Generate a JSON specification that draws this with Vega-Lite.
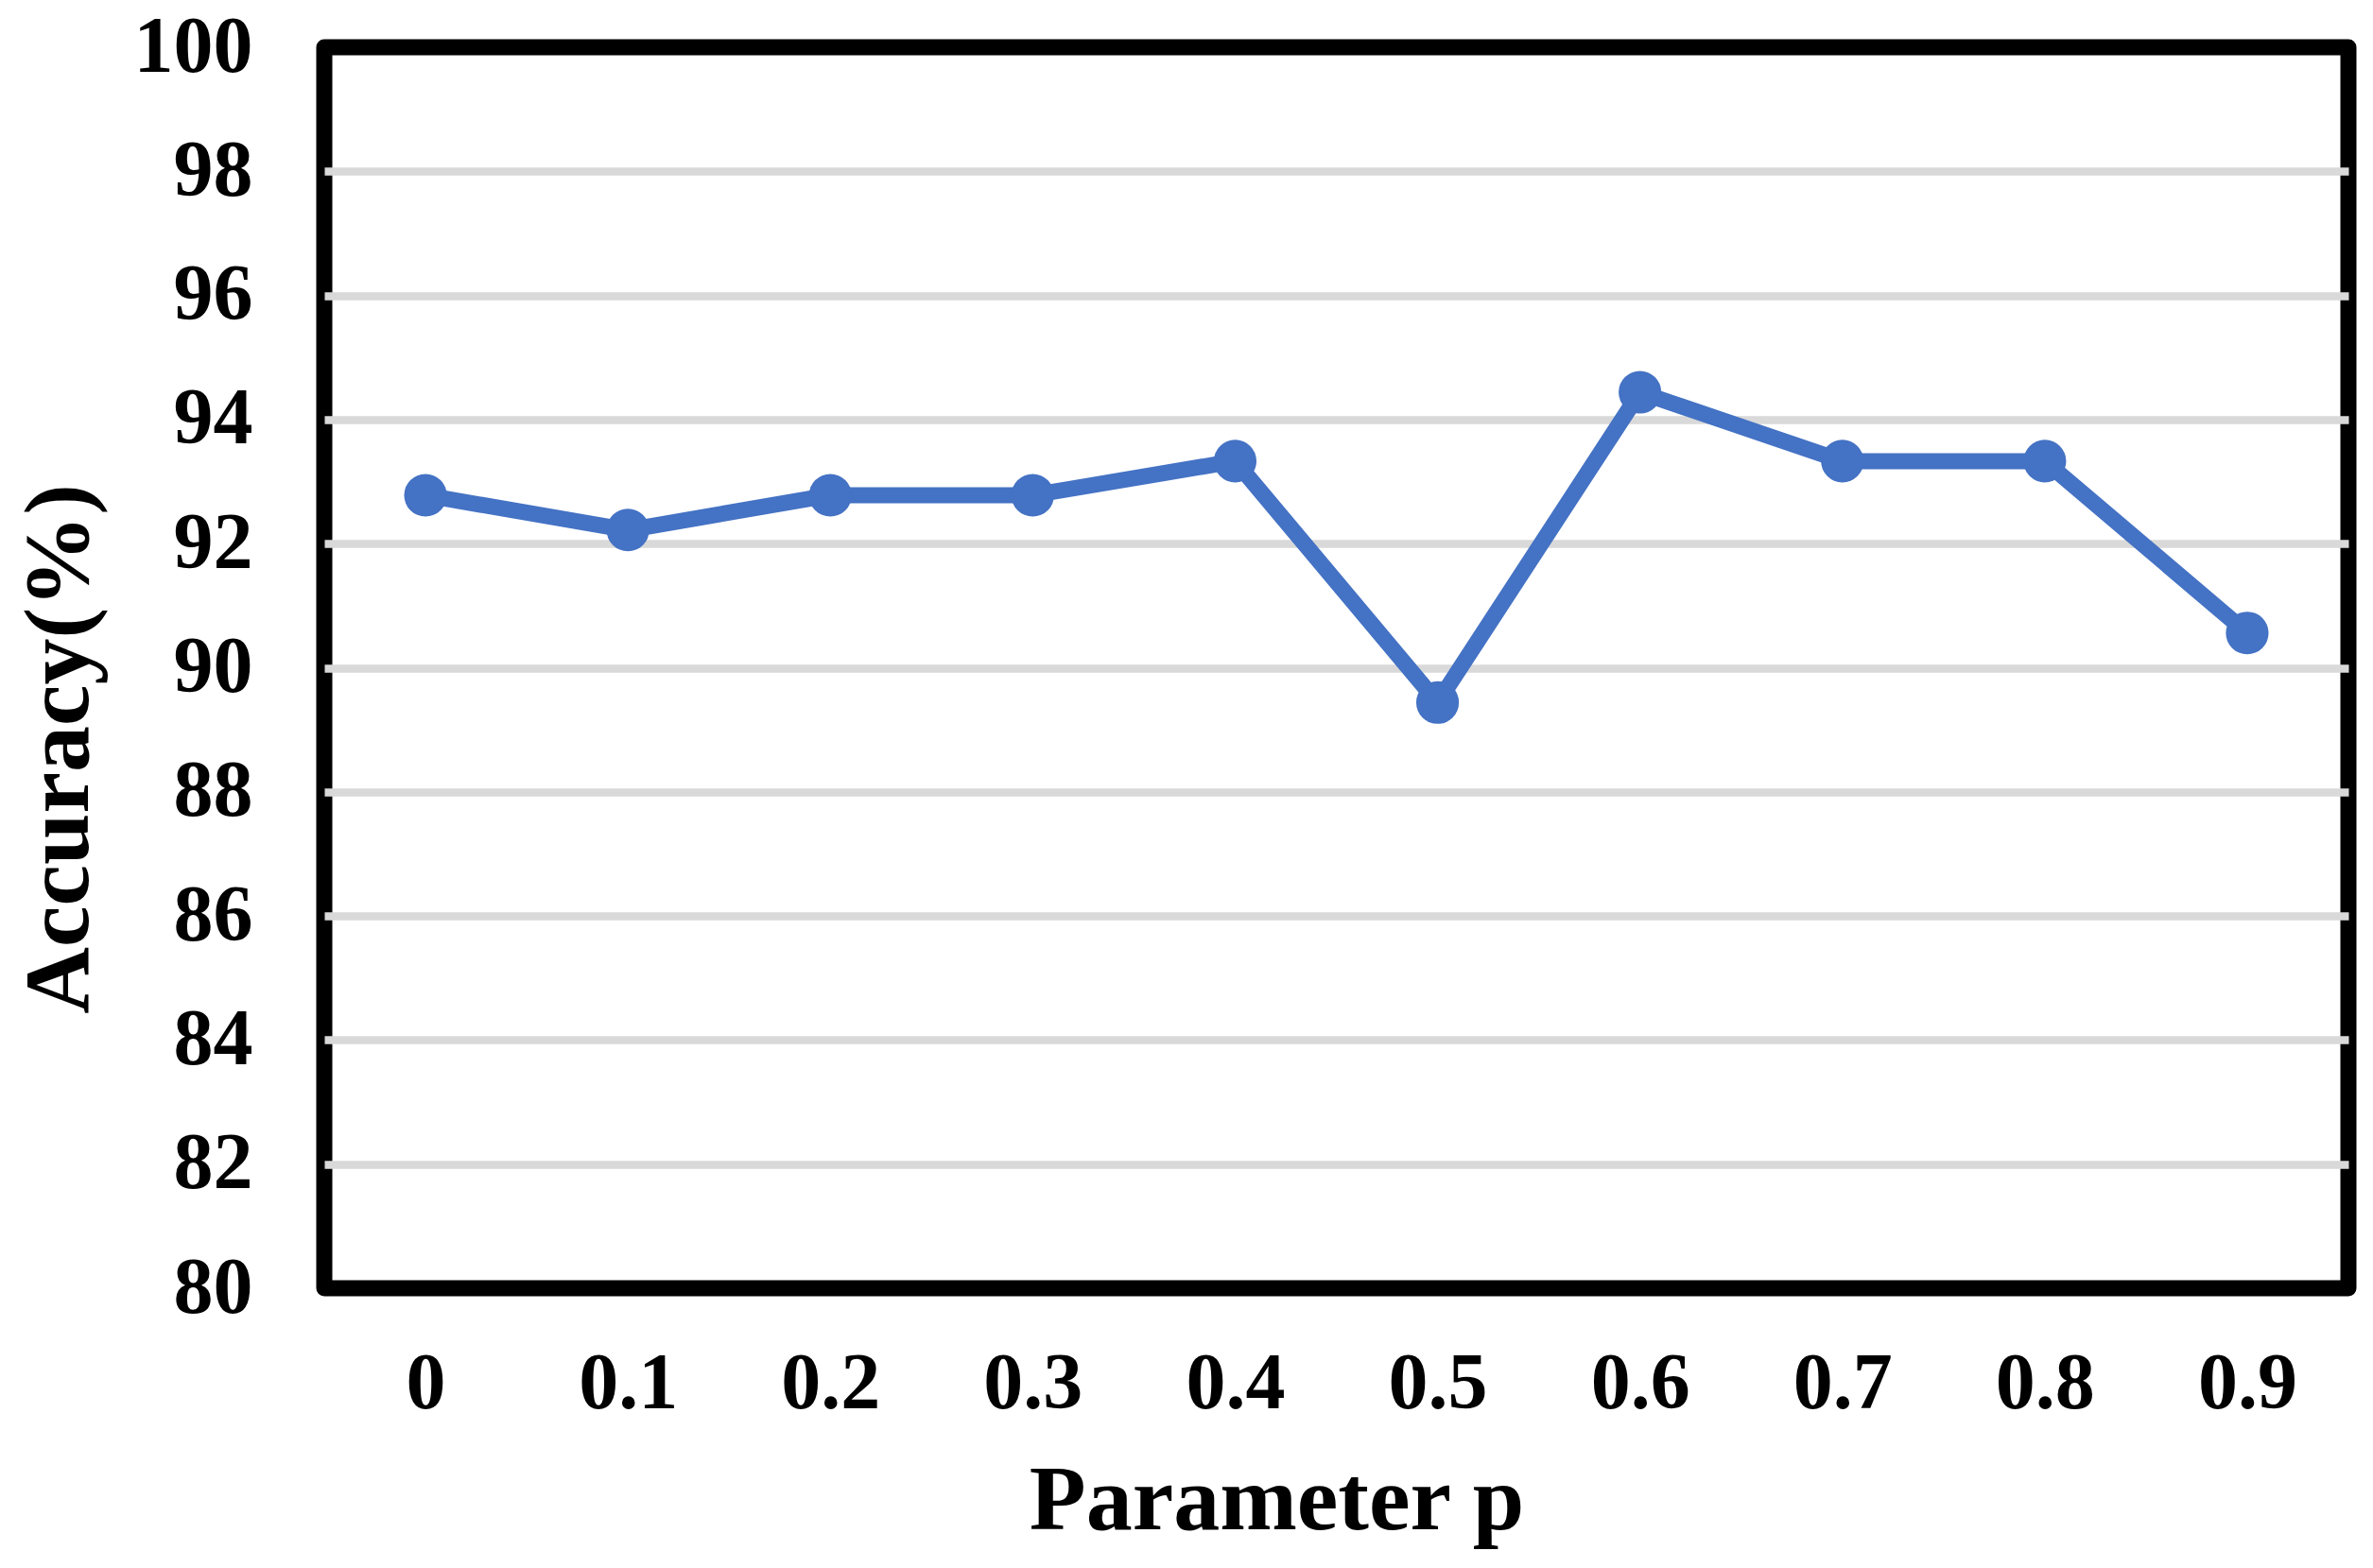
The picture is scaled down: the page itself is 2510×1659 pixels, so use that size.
{
  "$schema": "https://vega.github.io/schema/vega-lite/v6.json",
  "width": 2141,
  "height": 1313,
  "autosize": "none",
  "padding": {"left": 343, "top": 50, "right": 26, "bottom": 296},
  "background": "white",
  "config": {
    "view": {"stroke": "black", "strokeWidth": 17, "strokeJoin": "round"},
    "font": "Liberation Serif"
  },
  "data": {
    "values": [
      {"p": "0", "acc": 92.78},
      {"p": "0.1", "acc": 92.22},
      {"p": "0.2", "acc": 92.78},
      {"p": "0.3", "acc": 92.78},
      {"p": "0.4", "acc": 93.33},
      {"p": "0.5", "acc": 89.44},
      {"p": "0.6", "acc": 94.44},
      {"p": "0.7", "acc": 93.33},
      {"p": "0.8", "acc": 93.33},
      {"p": "0.9", "acc": 90.56}
    ]
  },
  "encoding": {
    "x": {
      "field": "p", "type": "ordinal", "sort": null,
      "scale": {"type": "point", "padding": 0.5},
      "axis": {
        "title": "Parameter p",
        "labelAngle": 0,
        "domain": false, "ticks": false, "grid": false,
        "labelFont": "Liberation Serif", "labelFontWeight": "bold", "labelFontSize": 84, "labelColor": "black",
        "labelPadding": 60,
        "titleFont": "Liberation Serif", "titleFontWeight": "bold", "titleFontSize": 98, "titleColor": "black",
        "titleX": 1007, "titleY": 254, "titleBaseline": "alphabetic", "titleAlign": "center"
      }
    },
    "y": {
      "field": "acc", "type": "quantitative",
      "scale": {"domain": [80, 100], "nice": false, "zero": false},
      "axis": {
        "title": "Accuracy(%)",
        "values": [80, 82, 84, 86, 88, 90, 92, 94, 96, 98, 100],
        "domain": false, "ticks": false,
        "grid": true, "gridColor": "#d9d9d9", "gridWidth": 8.5,
        "gridOpacity": {"condition": {"test": "datum.value == 80 || datum.value == 100", "value": 0}, "value": 1},
        "labelFont": "Liberation Serif", "labelFontWeight": "bold", "labelFontSize": 84, "labelColor": "black",
        "labelPadding": 76,
        "titleFont": "Liberation Serif", "titleFontWeight": "bold", "titleFontSize": 98, "titleColor": "black",
        "titleAngle": -90, "titleX": -251, "titleY": 742, "titleBaseline": "alphabetic", "titleAlign": "center"
      }
    }
  },
  "layer": [
    {"mark": {"type": "line", "color": "#4472C4", "strokeWidth": 17, "strokeJoin": "round"}},
    {"mark": {"type": "point", "shape": "circle", "filled": true, "color": "#4472C4", "opacity": 1, "size": 2040}}
  ]
}
